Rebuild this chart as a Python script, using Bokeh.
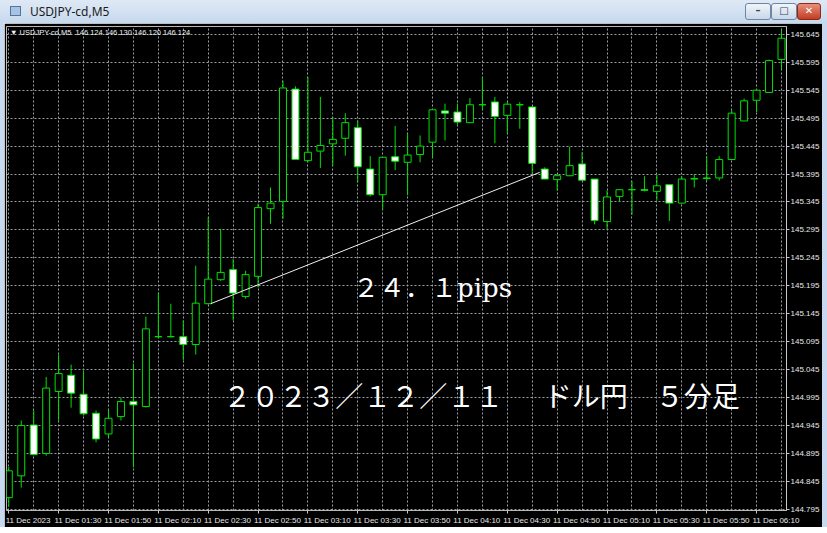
from bokeh.plotting import figure
from bokeh.models import (ColumnDataSource, FixedTicker, PrintfTickFormatter,
                          CustomJSTickFormatter, Label, Div, Range1d)
from bokeh.layouts import column, row
from bokeh.embed import file_html
from bokeh.resources import INLINE

# ---------------- data (USDJPY M5, 11 Dec 2023, 01:10 .. 06:20) ----------------
opens = [144.816, 144.855, 144.946, 144.895, 145.006, 145.035, 145.001, 144.967, 144.930, 144.961,
         144.988, 144.979, 145.104, 145.104, 145.104, 145.090, 145.163, 145.206, 145.224, 145.176,
         145.212, 145.333, 145.346, 145.547, 145.419, 145.436, 145.449, 145.459, 145.478, 145.404,
         145.358, 145.426, 145.416, 145.430, 145.452, 145.508, 145.506, 145.487, 145.519, 145.524,
         145.500, 145.519, 145.515, 145.404, 145.385, 145.392, 145.413, 145.386, 145.310, 145.355,
         145.367, 145.367, 145.364, 145.376, 145.343, 145.386, 145.387, 145.388, 145.421, 145.490,
         145.527, 145.541, 145.600]
highs = [144.871, 144.954, 144.972, 145.032, 145.072, 145.054, 145.043, 144.972, 144.973, 144.995,
         145.056, 145.140, 145.183, 145.163, 145.133, 145.231, 145.318, 145.297, 145.243, 145.222,
         145.342, 145.371, 145.562, 145.552, 145.569, 145.533, 145.497, 145.504, 145.491, 145.427,
         145.425, 145.481, 145.467, 145.464, 145.511, 145.521, 145.521, 145.531, 145.568, 145.533,
         145.524, 145.524, 145.516, 145.407, 145.395, 145.444, 145.434, 145.386, 145.366, 145.368,
         145.383, 145.391, 145.394, 145.376, 145.391, 145.395, 145.427, 145.427, 145.510, 145.530,
         145.547, 145.600, 145.653]
lows = [144.800, 144.834, 144.893, 144.891, 144.954, 144.977, 144.963, 144.915, 144.924, 144.954,
        144.870, 144.977, 145.102, 145.103, 145.062, 145.072, 145.162, 145.204, 145.133, 145.172,
        145.192, 145.306, 145.315, 145.421, 145.416, 145.406, 145.410, 145.428, 145.380, 145.355,
        145.331, 145.402, 145.357, 145.416, 145.424, 145.455, 145.484, 145.486, 145.509, 145.450,
        145.468, 145.476, 145.395, 145.386, 145.365, 145.391, 145.384, 145.305, 145.297, 145.346,
        145.322, 145.364, 145.348, 145.311, 145.342, 145.371, 145.383, 145.383, 145.421, 145.490,
        145.506, 145.540, 145.583]
closes = [144.864, 144.945, 144.893, 145.012, 145.038, 145.003, 144.966, 144.921, 144.958, 144.988,
          144.982, 145.118, 145.104, 145.104, 145.090, 145.164, 145.207, 145.219, 145.182, 145.215,
          145.335, 145.343, 145.549, 145.421, 145.434, 145.446, 145.457, 145.487, 145.408, 145.358,
          145.425, 145.418, 145.429, 145.445, 145.510, 145.504, 145.488, 145.519, 145.519, 145.498,
          145.520, 145.519, 145.414, 145.386, 145.392, 145.410, 145.384, 145.312, 145.354, 145.367,
          145.367, 145.366, 145.374, 145.343, 145.386, 145.387, 145.388, 145.421, 145.504, 145.526,
          145.545, 145.598, 145.638]
bar_index = list(range(len(opens)))

time_labels = ["11 Dec 2023", "11 Dec 01:30", "11 Dec 01:50", "11 Dec 02:10", "11 Dec 02:30",
               "11 Dec 02:50", "11 Dec 03:10", "11 Dec 03:30", "11 Dec 03:50", "11 Dec 04:10",
               "11 Dec 04:30", "11 Dec 04:50", "11 Dec 05:10", "11 Dec 05:30", "11 Dec 05:50",
               "11 Dec 06:10"]
label_bars = [0, 4, 8, 12, 16, 20, 24, 28, 32, 36, 40, 44, 48, 52, 56, 60]
grid_bars = list(range(0, 63, 2))
price_ticks = [144.795, 144.845, 144.895, 144.945, 144.995, 145.045, 145.095, 145.145, 145.195,
               145.245, 145.295, 145.345, 145.395, 145.445, 145.495, 145.545, 145.595, 145.645]

trend_x = [16.2, 42.6]
trend_y = [145.163, 145.398]

header_text = "\u25BC USDJPY-cd,M5\u00a0\u00a0146.124 146.130 146.120 146.124"
pips_text = "２４．１pips"
caption_text = "２０２３／１２／１１　\u00a0\u00a0ドル円　５分足"
window_title = "USDJPY-cd,M5"

# ---------------- derived table ----------------
body_top = [max(o, c) for o, c in zip(opens, closes)]
body_bot = [min(o, c) for o, c in zip(opens, closes)]
body_fill = ["black" if c >= o else "white" for o, c in zip(opens, closes)]
src = ColumnDataSource(dict(x=bar_index, o=opens, h=highs, l=lows, c=closes,
                            top=body_top, bot=body_bot, fill=body_fill))

GREEN = "#00e000"
FRAME_BLUE = "#c6d9ee"

p = figure(width=818, height=504,
           x_range=Range1d(-0.184, 62.4), y_range=Range1d(144.793, 145.659),
           y_axis_location="right", output_backend="svg", toolbar_location=None,
           min_border_left=2, min_border_right=35, min_border_top=3, min_border_bottom=17,
           background_fill_color="black", border_fill_color="black",
           outline_line_color="#b8b8b8", outline_line_width=1)

# grids
p.xgrid.ticker = FixedTicker(ticks=grid_bars)
p.ygrid.ticker = FixedTicker(ticks=price_ticks)
for g in (p.xgrid, p.ygrid):
    g.grid_line_color = "#9aa0a6"
    g.grid_line_dash = "2 2"
    g.grid_line_width = 1

# y axis (right)
ya = p.yaxis[0]
ya.ticker = FixedTicker(ticks=price_ticks)
ya.formatter = PrintfTickFormatter(format="%.3f")
ya.axis_line_color = "#c8c8c8"
ya.major_tick_line_color = "#c8c8c8"
ya.major_tick_out = 3
ya.major_tick_in = 0
ya.minor_tick_line_color = None
ya.major_label_text_color = "#e8e8e8"
ya.major_label_text_font = "Liberation Sans"
ya.major_label_text_font_size = "8px"
ya.major_label_standoff = 1

# x axis (below): MT4 labels start at the tick, so the label centres sit right of it
xa = p.xaxis[0]
xa.ticker = FixedTicker(ticks=[b + 1.55 for b in label_bars], minor_ticks=label_bars)
xa.formatter = CustomJSTickFormatter(args=dict(labels=time_labels), code="return labels[index];")
xa.axis_line_color = None
xa.major_tick_line_color = None
xa.major_tick_out = 0
xa.major_tick_in = 0
xa.minor_tick_line_color = "#c8c8c8"
xa.minor_tick_out = 3
xa.minor_tick_in = 0
xa.major_label_text_color = "#e8e8e8"
xa.major_label_text_font = "Liberation Sans"
xa.major_label_text_font_size = "8px"
xa.major_label_standoff = 2

# candles
p.segment(x0="x", y0="l", x1="x", y1="h", source=src, line_color=GREEN, line_width=1)
p.vbar(x="x", top="top", bottom="bot", width=0.56, source=src,
       fill_color="fill", line_color=GREEN, line_width=1)

# trend line
p.line(trend_x, trend_y, line_color="#f0f0f0", line_width=1)

# texts
p.add_layout(Label(x=0.1, y=145.648, text=header_text, text_color="#f2f2f2",
                   text_font="Liberation Sans", text_font_size="7.5px",
                   text_baseline="middle"))
p.add_layout(Label(x=27.62, y=145.191, text=pips_text, text_color="white",
                   text_font="'DejaVu Serif', 'Noto Sans CJK JP'", text_font_size="26px",
                   text_baseline="alphabetic"))
p.add_layout(Label(x=17.2, y=145.000, text=caption_text, text_color="white",
                   text_font="Noto Sans CJK JP", text_font_size="28px",
                   text_baseline="alphabetic"))

# ---------------- window chrome ----------------
btn = ("position:absolute;top:3px;height:17px;border:1px solid #6d86a6;border-radius:3px;"
       "box-sizing:border-box;display:flex;align-items:center;justify-content:center;"
       "font-size:10px;font-weight:bold;font-family:'DejaVu Sans',sans-serif;")
title_html = (
    '<div style="position:relative;width:827px;height:23px;overflow:hidden;'
    'background:linear-gradient(#dfe9f5,#c6d9ee);font-family:\'Noto Sans\',sans-serif;">'
    '<span style="position:absolute;left:10px;top:6px;width:11px;height:10px;'
    'background:#a9c2e0;border:1px solid #4f74a6;"></span>'
    '<span style="position:absolute;left:30px;top:0px;font-size:12px;line-height:23px;color:#1b1b1b;">'
    + window_title + '</span>'
    '<span style="' + btn + 'left:745px;width:26px;background:linear-gradient(#f0f5fa,#c9d7e8);color:#33475f;">&#8211;</span>'
    '<span style="' + btn + 'left:771px;width:26px;background:linear-gradient(#f0f5fa,#c9d7e8);color:#33475f;">&#9633;</span>'
    '<span style="' + btn + 'left:797px;width:24px;background:linear-gradient(#e8907c,#c43c23);color:white;border-color:#8a2a18;">&#10005;</span>'
    '</div>')


def strip(w, h):
    return Div(text='<div style="width:%dpx;height:%dpx;background:%s;"></div>' % (w, h, FRAME_BLUE),
               width=w, height=h, margin=0)


title_bar = Div(text=title_html, width=827, height=23, margin=0)
middle = row(strip(4, 504), p, strip(5, 504), spacing=0)
layout = column(title_bar, middle, strip(827, 6), spacing=0)

open("out.html", "w").write(file_html(layout, INLINE))
